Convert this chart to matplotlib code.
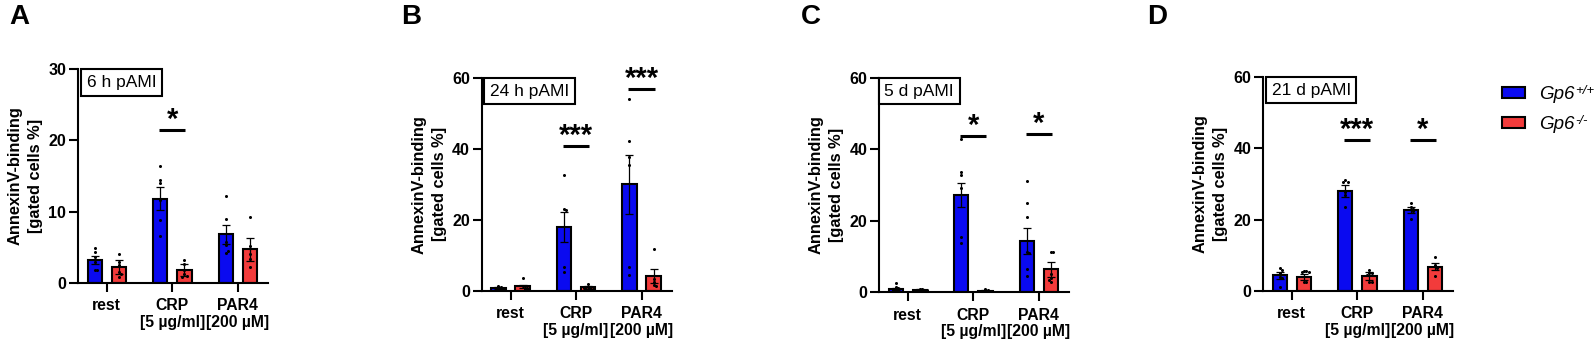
import matplotlib
matplotlib.use('Agg')
import matplotlib.pyplot as plt
from matplotlib.patches import Patch
import numpy as np

plt.rcParams['font.family'] = ['Liberation Sans', 'DejaVu Sans']

# ---------------- data ----------------
categories = ['rest', 'CRP\n[5 µg/ml]', 'PAR4\n[200 µM]']
series_labels = ['Gp6', 'Gp6']
series_sups = ['+/+', '-/-']
panel_letters = ['A', 'B', 'C', 'D']
panel_titles = ['6 h pAMI', '24 h pAMI', '5 d pAMI', '21 d pAMI']
y_max = [30, 60, 60, 60]
y_ticks = [[0, 10, 20, 30], [0, 20, 40, 60], [0, 20, 40, 60], [0, 20, 40, 60]]

# 6 h
wt_mean_6h = [3.2, 11.8, 6.8]
wt_sem_6h = [0.6, 1.6, 1.3]
ko_mean_6h = [2.2, 1.8, 4.7]
ko_sem_6h = [1.0, 0.8, 1.6]
wt_pts_6h = [[4.9, 4.4, 3.7, 3.0, 1.8, 1.8],
             [16.4, 14.4, 14.0, 11.6, 8.8, 6.6],
             [12.2, 9.0, 5.8, 5.3, 4.2, 4.5]]
ko_pts_6h = [[4.1, 3.0, 2.5, 1.6, 0.9, 1.2],
             [3.2, 2.6, 1.8, 1.2, 1.0, 0.9],
             [9.2, 5.2, 3.4, 2.2, 4.0]]
sig_groups_6h = [1]
sig_heights_6h = [21.5]
sig_labels_6h = ['*']

# 24 h
wt_mean_24h = [0.8, 17.9, 30.0]
wt_sem_24h = [0.2, 4.2, 8.2]
ko_mean_24h = [1.3, 1.0, 4.2]
ko_sem_24h = [0.5, 0.3, 1.9]
wt_pts_24h = [[1.4, 1.0, 0.7, 0.5, 0.6, 0.8],
              [32.5, 23.2, 22.8, 6.8, 5.4],
              [53.9, 42.3, 37.8, 35.4, 6.8, 4.4]]
ko_pts_24h = [[3.6, 1.5, 0.8, 0.6, 0.8, 0.5],
              [1.9, 1.2, 0.9, 0.7, 0.6, 0.8],
              [11.7, 3.5, 2.6, 1.7, 1.5]]
sig_groups_24h = [1, 2]
sig_heights_24h = [40.8, 56.8]
sig_labels_24h = ['***', '***']

# 5 d
wt_mean_5d = [1.0, 27.2, 14.4]
wt_sem_5d = [0.3, 3.3, 3.7]
ko_mean_5d = [0.7, 0.5, 6.4]
ko_sem_5d = [0.1, 0.1, 2.2]
wt_pts_5d = [[2.5, 1.5, 1.2, 0.8, 0.6, 0.4],
             [43.0, 33.7, 32.8, 29.1, 15.5, 13.7],
             [31.1, 25.0, 21.1, 11.4, 11.0, 6.4, 4.6]]
ko_pts_5d = [[0.9, 0.8, 0.7, 0.6, 0.5, 0.7],
             [0.8, 0.6, 0.5, 0.4, 0.5, 0.3],
             [11.4, 11.4, 5.0, 4.0, 3.0, 3.5]]
sig_groups_5d = [1, 2]
sig_heights_5d = [43.7, 44.2]
sig_labels_5d = ['*', '*']

# 21 d
wt_mean_21d = [4.4, 28.0, 22.7]
wt_sem_21d = [1.0, 1.7, 0.8]
ko_mean_21d = [3.9, 4.2, 6.8]
ko_sem_21d = [0.8, 1.0, 0.9]
wt_pts_21d = [[6.5, 6.0, 5.0, 4.0, 3.5, 1.2],
              [31.0, 30.5, 30.5, 27.7, 26.8, 23.5],
              [24.6, 23.5, 23.0, 22.5, 20.2]]
ko_pts_21d = [[5.5, 5.5, 5.4, 5.3, 2.6, 2.5],
              [6.0, 5.1, 5.0, 4.5, 2.6, 2.6],
              [9.6, 7.4, 6.8, 6.5, 4.3]]
sig_groups_21d = [1, 2]
sig_heights_21d = [42.3, 42.3]
sig_labels_21d = ['***', '*']

panels = [
    (wt_mean_6h, wt_sem_6h, ko_mean_6h, ko_sem_6h, wt_pts_6h, ko_pts_6h,
     sig_groups_6h, sig_heights_6h, sig_labels_6h),
    (wt_mean_24h, wt_sem_24h, ko_mean_24h, ko_sem_24h, wt_pts_24h, ko_pts_24h,
     sig_groups_24h, sig_heights_24h, sig_labels_24h),
    (wt_mean_5d, wt_sem_5d, ko_mean_5d, ko_sem_5d, wt_pts_5d, ko_pts_5d,
     sig_groups_5d, sig_heights_5d, sig_labels_5d),
    (wt_mean_21d, wt_sem_21d, ko_mean_21d, ko_sem_21d, wt_pts_21d, ko_pts_21d,
     sig_groups_21d, sig_heights_21d, sig_labels_21d),
]

# ---------------- style / layout ----------------
BLUE = '#0A0AF0'
RED = '#F23B3B'
W, H = 1594, 344
fig = plt.figure(figsize=(W / 100, H / 100), dpi=100)

# axes boxes in pixels: left, right, top, bottom
ax_px = [(78, 268, 69, 283), (481.7, 671.7, 77.7, 291),
         (879, 1069, 77.7, 292.3), (1263, 1453, 76.7, 291)]
letter_px = [(9, 4), (401, 4), (801, 4), (1147, 4)]
box_dx_px = [9, 8.5, 5.5, 8.5]

offset = 0.185
bar_w = 0.22


def spread(vals, ymax):
    xs = []
    placed = []
    thr = ymax * 0.012
    for v in vals:
        k = sum(1 for p in placed if abs(p - v) < thr)
        placed.append(v)
        if k == 0:
            xs.append(0.0)
        else:
            sgn = 1 if k % 2 == 1 else -1
            xs.append(sgn * 0.035 * ((k + 1) // 2))
    return np.array(xs)


for i, (pdata, (l, r, t, b)) in enumerate(zip(panels, ax_px)):
    (wm, ws, km, ks, wp, kp, sg, sh, sl) = pdata
    ax = fig.add_axes([l / W, (H - b) / H, (r - l) / W, (b - t) / H])
    x = np.arange(len(categories))
    for means, sems, pts, col, sgn in [(wm, ws, wp, BLUE, -1), (km, ks, kp, RED, 1)]:
        xp = x + sgn * offset
        ax.bar(xp, means, width=bar_w, color=col, edgecolor='black',
               linewidth=1.5, zorder=2)
        ax.errorbar(xp, means, yerr=sems, fmt='none', ecolor='black',
                    elinewidth=0.9, capsize=3, capthick=0.9, zorder=3)
        for j, vals in enumerate(pts):
            dx = spread(vals, y_max[i])
            ax.plot(xp[j] + dx, vals, 'o', ms=2.2, color='black', zorder=4,
                    markeredgewidth=0)
    for g, hgt, lab in zip(sg, sh, sl):
        ax.plot([g - 0.2, g + 0.2], [hgt, hgt], color='black', lw=2.2,
                solid_capstyle='butt', zorder=5, clip_on=False)
        ax.annotate(lab, xy=(g, hgt), xytext=(0, 1.5), textcoords='offset points',
                    ha='center', va='baseline', fontsize=21, fontweight='bold',
                    annotation_clip=False)
    ax.set_xlim(-0.44, 2.46)
    ax.set_ylim(0, y_max[i])
    ax.set_yticks(y_ticks[i])
    ax.set_xticks(x)
    ax.set_xticklabels(categories, fontsize=11.3, fontweight='bold', linespacing=1.15)
    for tl in ax.get_yticklabels():
        tl.set_fontsize(11.5)
        tl.set_fontweight('bold')
    ax.tick_params(axis='y', length=6.5, width=1.5, pad=2)
    ax.tick_params(axis='x', length=6.5, width=1.5, pad=4.5)
    for s in ['top', 'right']:
        ax.spines[s].set_visible(False)
    for s in ['left', 'bottom']:
        ax.spines[s].set_linewidth(1.5)
    ax.set_ylabel('AnnexinV-binding\n[gated cells %]', fontsize=11.8,
                  fontweight='bold', linespacing=1.4)
    ax.yaxis.set_label_coords(-0.185, 0.5)
    ax.annotate(panel_titles[i], xy=(0, 1), xycoords='axes fraction',
                xytext=(box_dx_px[i] * 0.72, -4.2), textcoords='offset points',
                ha='left', va='top', fontsize=12.5,
                bbox=dict(boxstyle='square,pad=0.33', fc='white', ec='black', lw=1.5))
    lx, ly = letter_px[i]
    fig.text(lx / W, 1 - ly / H, panel_letters[i], fontsize=20, fontweight='bold',
             ha='left', va='top')

handles = [Patch(facecolor=BLUE, edgecolor='black', linewidth=1.5),
           Patch(facecolor=RED, edgecolor='black', linewidth=1.5)]
leg = fig.legend(handles, series_labels, loc='upper left',
                 bbox_to_anchor=(1502 / W, 1 - 86 / H), frameon=False,
                 prop={'size': 13.5, 'style': 'italic'}, handlelength=1.2,
                 handleheight=0.55, handletextpad=0.8, labelspacing=0.7,
                 borderpad=0, borderaxespad=0)

# superscripts placed right after each legend label
fig.canvas.draw()
renderer = fig.canvas.get_renderer()
for txt, sup in zip(leg.get_texts(), series_sups):
    bb = txt.get_window_extent(renderer)
    fig.text((bb.x1 + 0.5) / W, (bb.y1 + 1.0) / H, sup, fontsize=9.5,
             style='italic', ha='left', va='top')

fig.savefig('out.png', dpi=100)
